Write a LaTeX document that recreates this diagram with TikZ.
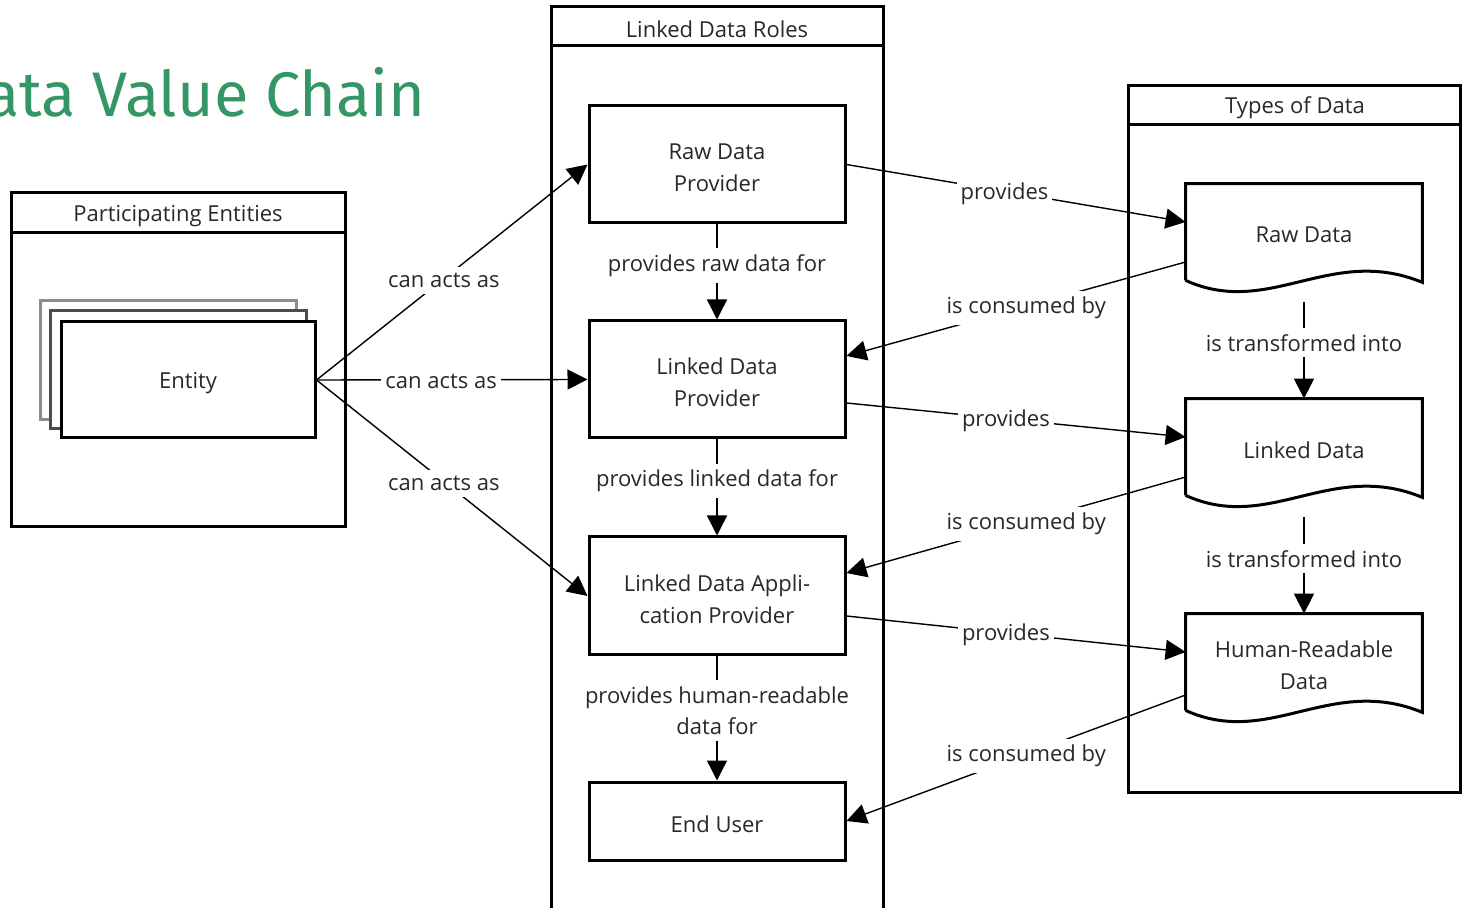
\documentclass[tikz,border=0pt]{standalone}
\usepackage{fontspec}
\setmainfont{Open Sans}
\newfontfamily\titlefont{Fira Sans}
\usetikzlibrary{arrows.meta,calc}
\definecolor{titlegreen}{RGB}{52,150,100}
\definecolor{txt}{RGB}{40,40,40}
\begin{document}
\begin{tikzpicture}[x=0.5pt,y=-0.5pt,
  every node/.style={font=\fontsize{11}{15.8}\selectfont, text=txt},
  container/.style={draw, line width=1.5pt},
  rolebox/.style={draw, line width=1.5pt, minimum width=128pt, align=center, inner sep=0pt, fill=white},
  intext/.style={label={[yshift=-1.5pt, align=center, inner sep=0pt]center:#1}},
  docbox/.style={minimum width=118pt, minimum height=48pt, align=center, inner sep=0pt},
  docline/.style={draw, line width=1.5pt},
  conn/.style={line width=0.7pt, -{Triangle[length=10pt,width=10pt]}},
  lbl/.style={fill=white, inner xsep=2pt, inner ysep=3pt, align=center, yshift=-1pt}
]
\useasboundingbox (0,0) rectangle (1462,908);

% title
\node[anchor=east, font=\titlefont\fontsize{31.5}{38}\selectfont, text=titlegreen, inner sep=0pt] (title) at (426,92) {ata Value Chain};

% containers
\draw[container] (11,193) rectangle (345,527);
\draw[container] (11,233) -- (345,233);
\node (pelbl) at (178,216) {Participating Entities};

\draw[container] (551,930) -- (551,7) -- (883,7) -- (883,930);
\draw[container] (551,46) -- (883,46);
\node (ldrlbl) at (717,29) {Linked Data Roles};

\draw[container] (1128,86) rectangle (1460,792);
\draw[container] (1128,125) -- (1460,125);
\node (tdlbl) at (1295,108) {Types of Data};

% entity stack
\draw[line width=1.5pt, black!45] (40,301) rectangle (296,420);
\draw[line width=1.5pt, black!70, fill=white] (50,311) rectangle (306,429);
\node[rolebox, minimum width=127pt, minimum height=58pt, intext={Entity}] (ent) at (188,380) {};

% roles
\node[rolebox, minimum height=58.5pt, intext={Raw Data\\Provider}] (rdp) at (717,164.5) {};
\node[rolebox, minimum height=58.5pt, intext={Linked Data\\Provider}] (ldp) at (717,379.5) {};
\node[rolebox, minimum height=59pt, intext={Linked Data Appli-\\cation Provider}] (ldap) at (717,596) {};
\node[rolebox, minimum height=39pt, intext={End User}] (eu) at (717,821) {};

% documents
\node[docbox, intext={Raw Data}] (rd) at (1304,232) {};
\node[docbox, intext={Linked Data}] (ld) at (1304,447) {};
\node[docbox, intext={Human-Readable\\Data}] (hrd) at (1304,662) {};
\foreach \d in {rd,ld,hrd}{
  \draw[docline] (\d.south west) -- (\d.north west) -- (\d.north east) -- ($(\d.south east)+(0,2)$)
    .. controls +(-92,-38) and +(84,38) .. (\d.south west);
}

% entity connectors
\draw[conn] (ent.east) -- node[lbl, pos=0.47] {can acts as} (rdp.west);
\draw[conn] (ent.east) -- node[lbl, pos=0.46] {can acts as} (ldp.west);
\draw[conn] (ent.east) -- node[lbl, pos=0.47] {can acts as} (ldap.west);

% role chain
\draw[conn] (rdp.south) -- node[lbl, pos=0.41] {provides raw data for} (ldp.north);
\draw[conn] (ldp.south) -- node[lbl, pos=0.41] {provides linked data for} (ldap.north);
\draw[conn] (ldap.south) -- node[lbl, pos=0.42] {provides human-readable\\data for} (eu.north);

% data chain
\draw[conn] ($(rd.south)+(0,22)$) -- node[lbl, pos=0.40] {is transformed into} (ld.north);
\draw[conn] ($(ld.south)+(0,22)$) -- node[lbl, pos=0.41] {is transformed into} (hrd.north);

% provides / consumed
\draw[conn] (rdp.east) -- node[lbl, pos=0.466] {provides} ($(rd.west)+(0,-10)$);
\draw[conn] ($(rd.west)+(0,30)$) -- node[lbl, pos=0.47] {is consumed by} ($(ldp.east)+(0,-23.5)$);
\draw[conn] ($(ldp.east)+(0,23.5)$) -- node[lbl, pos=0.47] {provides} ($(ld.west)+(0,-10)$);
\draw[conn] ($(ld.west)+(0,30)$) -- node[lbl, pos=0.47] {is consumed by} ($(ldap.east)+(0,-23)$);
\draw[conn] ($(ldap.east)+(0,20)$) -- node[lbl, pos=0.47] {provides} ($(hrd.west)+(0,-10)$);
\draw[conn] ($(hrd.west)+(0,33)$) -- node[lbl, pos=0.47] {is consumed by} (eu.east);
\end{tikzpicture}
\end{document}
